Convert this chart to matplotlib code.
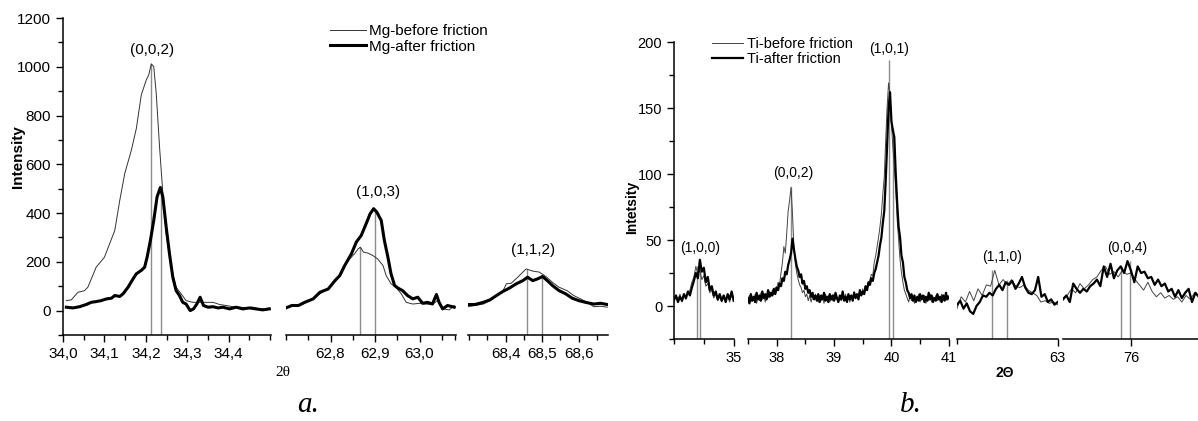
import numpy as np
import matplotlib
matplotlib.use('Agg')
import matplotlib.pyplot as plt

plt.rcParams['font.family'] = ['Liberation Sans', 'DejaVu Sans']

# ---- Mg, panel a ----
mg1_x_before = [34.008, 34.020, 34.036, 34.052, 34.060, 34.080, 34.100, 34.125, 34.137, 34.149,
                34.165, 34.177, 34.189, 34.201, 34.207, 34.213, 34.219, 34.225, 34.233, 34.241,
                34.249, 34.261, 34.273, 34.285, 34.297, 34.313, 34.330, 34.346, 34.362, 34.378,
                34.394, 34.410, 34.426, 34.442, 34.458, 34.474, 34.490, 34.498]
mg1_y_before = [41, 44, 75, 82, 96, 178, 219, 329, 452, 562,
                658, 747, 885, 946, 967, 1012, 1001, 891, 672, 480,
                315, 178, 96, 69, 41, 34, 34, 34, 34, 25,
                21, 16, 14, 11, 14, 7, 7, 11]
mg1_x_after = [34.008, 34.024, 34.040, 34.056, 34.068, 34.080, 34.092, 34.105, 34.117, 34.125,
               34.137, 34.145, 34.157, 34.169, 34.177, 34.189, 34.197, 34.203, 34.211, 34.219,
               34.227, 34.235, 34.241, 34.249, 34.257, 34.265, 34.273, 34.281, 34.289, 34.297,
               34.307, 34.315, 34.323, 34.331, 34.339, 34.350, 34.362, 34.374, 34.386, 34.402,
               34.418, 34.434, 34.450, 34.466, 34.482, 34.498]
mg1_y_after = [14, 11, 16, 25, 34, 37, 41, 48, 51, 62,
               58, 69, 96, 130, 151, 165, 178, 219, 288, 370,
               466, 505, 466, 343, 233, 137, 82, 62, 34, 27,
               0, 7, 27, 55, 21, 14, 16, 11, 14, 7,
               14, 7, 11, 7, 3, 7]

mg2_x_before = [62.700, 62.716, 62.731, 62.746, 62.761, 62.776, 62.791, 62.806, 62.817, 62.828,
                62.843, 62.854, 62.862, 62.867, 62.874, 62.884, 62.895, 62.906, 62.918, 62.925,
                62.936, 62.947, 62.959, 62.970, 62.985, 63.000, 63.014, 63.029, 63.040, 63.052,
                63.067, 63.078]
mg2_y_before = [14, 21, 21, 34, 48, 69, 85, 110, 137, 178,
                212, 233, 253, 260, 240, 236, 226, 212, 185, 144,
                110, 96, 69, 34, 27, 30, 27, 25, 41, 7,
                3, 21]
mg2_x_after = [62.700, 62.713, 62.728, 62.742, 62.761, 62.776, 62.795, 62.810, 62.821, 62.832,
               62.847, 62.858, 62.869, 62.880, 62.889, 62.897, 62.904, 62.914, 62.921, 62.929,
               62.936, 62.944, 62.951, 62.962, 62.973, 62.985, 62.996, 63.007, 63.018, 63.029,
               63.038, 63.044, 63.052, 63.063, 63.078]
mg2_y_after = [11, 21, 21, 34, 48, 75, 89, 123, 144, 185,
               233, 281, 308, 356, 397, 418, 404, 370, 288, 219,
               151, 103, 93, 82, 62, 48, 55, 30, 34, 27,
               66, 34, 7, 21, 14]

mg3_x_before = [68.297, 68.316, 68.339, 68.357, 68.375, 68.393, 68.402, 68.415, 68.433, 68.456,
                68.474, 68.492, 68.510, 68.528, 68.546, 68.568, 68.586, 68.605, 68.623, 68.641,
                68.660, 68.678]
mg3_y_before = [16, 21, 27, 41, 62, 82, 110, 112, 137, 171,
                162, 158, 140, 116, 96, 82, 62, 48, 34, 16,
                18, 14]
mg3_x_after = [68.297, 68.316, 68.339, 68.357, 68.375, 68.393, 68.411, 68.429, 68.447, 68.460,
               68.474, 68.487, 68.501, 68.514, 68.528, 68.546, 68.564, 68.582, 68.600, 68.618,
               68.641, 68.660, 68.678]
mg3_y_after = [25, 25, 34, 44, 62, 79, 93, 110, 123, 137,
               123, 130, 140, 123, 103, 82, 69, 51, 41, 34,
               27, 30, 25]

mg_peaks = [(34.213, 1012), (34.237, 505), (62.867, 260), (62.899, 418), (68.458, 171), (68.500, 140)]
mg_labels = [(34.215, 1068, '(0,0,2)'), (62.906, 485, '(1,0,3)'), (68.476, 247, '(1,1,2)')]

# ---- Ti, panel b ----
ti1_before = [3, 7, 5, 9, 3, 8, 5, 10, 12, 18, 22, 30, 24, 27, 20, 23, 15, 17, 10, 12,
              6, 9, 4, 7, 3, 8, 5, 7, 3, 9, 6]
ti1_after = [5, 8, 3, 7, 4, 9, 6, 11, 8, 14, 19, 25, 21, 35, 26, 29, 18, 22, 12, 15,
             8, 11, 5, 9, 4, 8, 3, 9, 5, 11, 4]

ti2_before = [4, 8, 3, 7, 5, 9, 2, 7, 4, 10,
              5, 8, 3, 9, 6, 11, 7, 12, 9, 14,
              13, 18, 16, 25, 33, 45, 40, 55, 72, 80,
              90, 70, 45, 32, 25, 20, 16, 14, 10, 12,
              7, 9, 4, 8, 3, 7, 5, 9, 6, 3,
              8, 4, 7, 2, 9, 5, 8, 3, 6, 4,
              9, 5, 7, 3, 8, 4, 10, 6, 9, 4,
              7, 3, 8, 5, 11, 6, 9, 7, 12, 8,
              13, 10, 14, 12, 17, 20, 24, 23, 33, 38,
              45, 52, 60, 70, 85, 98, 126, 151, 169, 160,
              138, 120, 105, 88, 65, 50, 35, 25, 18, 12,
              9, 6, 3, 8, 4, 7, 2, 6, 4, 9,
              3, 7, 5, 8, 2, 6, 4, 9, 3, 7,
              5, 8, 4, 6, 3, 9, 5, 7, 4, 8,
              6]
ti2_after = [6, 2, 9, 4, 7, 3, 10, 5, 8, 4,
             11, 6, 9, 5, 12, 7, 10, 8, 13, 9,
             14, 12, 17, 15, 21, 19, 26, 24, 31, 35,
             40, 51, 43, 36, 30, 27, 22, 24, 17, 19,
             13, 15, 10, 12, 7, 10, 5, 8, 4, 9,
             3, 8, 5, 10, 4, 7, 3, 9, 5, 8,
             4, 10, 6, 3, 8, 5, 11, 4, 7, 3,
             9, 5, 8, 4, 10, 6, 9, 5, 12, 8,
             11, 9, 15, 12, 18, 16, 21, 19, 25, 28,
             33, 38, 46, 52, 63, 72, 95, 122, 150, 162,
             140, 133, 128, 100, 78, 60, 52, 38, 33, 22,
             18, 12, 10, 6, 9, 4, 8, 3, 7, 4,
             9, 5, 8, 3, 7, 4, 10, 5, 8, 3,
             6, 4, 9, 5, 7, 3, 8, 4, 10, 5,
             7]

ti3_before = [-2, 7, 3, 11, 4, 13, 8, 16, 15, 27, 16, 20, 16, 20, 15, 14, 16, 12, 10, 8,
              3, 4, 2, 3, 1]
ti3_after = [1, 4, -2, 2, -4, -6, 0, 3, 8, 7, 10, 8, 13, 16, 12, 18, 16, 19, 13, 17,
             22, 14, 10, 9, 12, 22, 7, 9, 3, 5, 1, 3]

ti4_before = [6, 8, 13, 10, 17, 13, 16, 20, 22, 27, 30, 24, 26, 22, 27, 24, 25, 20, 16, 12,
              18, 11, 7, 10, 6, 8, 5, 7, 3, 8, 5, 10, 7]
ti4_after = [5, 8, 3, 17, 13, 10, 13, 11, 15, 17, 20, 15, 30, 22, 32, 21, 27, 30, 25, 34,
             27, 18, 30, 25, 26, 21, 22, 16, 20, 15, 17, 11, 13, 7, 12, 6, 10, 13, 3, 10, 7]

ti_peaks = [(34.69, 30), (34.717, 35), (38.25, 90), (39.955, 186), (40.025, 135),
            (62.35, 27), (62.50, 20), (75.86, 30), (75.98, 34)]
ti_labels = [(0, 34.717, 44, '(1,0,0)'), (1, 38.28, 101, '(0,0,2)'), (1, 39.96, 195, '(1,0,1)'),
             (2, 62.446, 37, '(1,1,0)'), (3, 75.94, 44, '(0,0,4)')]

W, H = 1198, 421
fig = plt.figure(figsize=(W / 100, H / 100), dpi=100)


def seg_axes(x0, x1, ytop, ybot, left_spine):
    ax = fig.add_axes([x0 / W, 1 - ybot / H, (x1 - x0) / W, (ybot - ytop) / H])
    ax.set_facecolor('none')
    for s in ['top', 'right']:
        ax.spines[s].set_visible(False)
    ax.spines['left'].set_visible(left_spine)
    if not left_spine:
        ax.set_yticks([])
    for s in ['left', 'bottom']:
        ax.spines[s].set_linewidth(1.1)
    ax.tick_params(which='major', direction='out', length=5, width=1.0)
    ax.tick_params(which='minor', direction='out', length=3.5, width=1.0)
    return ax


def xticks(ax, major, labels, minor):
    ax.set_xticks(major)
    ax.set_xticklabels(labels)
    ax.set_xticks(minor, minor=True)


THIN = dict(color='#333333', lw=0.7)
GRAY = dict(color='#8c8c8c', lw=1.0)

# panel a
a1 = seg_axes(63, 271, 18, 335, True)
a2 = seg_axes(286, 456, 18, 335, False)
a3 = seg_axes(468, 608, 18, 335, False)
a_axes = [a1, a2, a3]
a1.set_xlim(34.0, 34.502)
a2.set_xlim(62.7, 63.082)
a3.set_xlim(68.297, 68.68)
for ax in a_axes:
    ax.set_ylim(-100, 1200)
    ax.tick_params(labelsize=11)

a1.set_yticks(range(0, 1201, 200))
a1.set_yticks(range(-100, 1200, 200), minor=True)
xticks(a1, [34.0, 34.1, 34.2, 34.3, 34.4], ['34,0', '34,1', '34,2', '34,3', '34,4'],
       [34.05, 34.15, 34.25, 34.35, 34.45, 34.5])
xticks(a2, [62.8, 62.9, 63.0], ['62,8', '62,9', '63,0'],
       [62.7, 62.75, 62.85, 62.95, 63.05, 63.08])
xticks(a3, [68.4, 68.5, 68.6], ['68,4', '68,5', '68,6'],
       [68.3, 68.35, 68.45, 68.55, 68.65])

mg_sets = [(mg1_x_before, mg1_y_before, mg1_x_after, mg1_y_after),
           (mg2_x_before, mg2_y_before, mg2_x_after, mg2_y_after),
           (mg3_x_before, mg3_y_before, mg3_x_after, mg3_y_after)]
for ax, (xb, yb, xa, ya) in zip(a_axes, mg_sets):
    lb, = ax.plot(xb, yb, **THIN)
    la, = ax.plot(xa, ya, color='black', lw=2.2)
    if ax is a1:
        mg_handles = [lb, la]
for i, (px, py) in enumerate(mg_peaks):
    ax = a_axes[i // 2]
    ax.vlines(px, -100, py, zorder=0.5, **GRAY)
for ax, (tx, ty, s) in zip(a_axes, mg_labels):
    ax.text(tx, ty, s, ha='center', va='center', fontsize=11)

fig.legend(mg_handles, ['Mg-before friction', 'Mg-after friction'], loc='upper left',
           bbox_to_anchor=(330 / W, 1 - 24 / H), frameon=False, fontsize=11,
           handlelength=2.35, handletextpad=0.2, labelspacing=0.1,
           borderpad=0, borderaxespad=0)

fig.text(18 / W, 1 - 157 / H, 'Intensity', rotation=90, ha='center', va='center',
         fontsize=11, fontweight='bold')
fig.text(283 / W, 1 - 372 / H, '2θ', ha='center', va='center', fontsize=11,
         family='Liberation Serif')
fig.text(308 / W, 1 - 412 / H, 'a.', ha='center', va='baseline', fontsize=21,
         family='Liberation Serif', style='italic')

# panel b
b1 = seg_axes(674, 734, 42, 339, True)
b2 = seg_axes(748, 949, 42, 339, False)
b3 = seg_axes(957, 1058, 42, 339, False)
b4 = seg_axes(1063, 1199, 42, 339, False)
b_axes = [b1, b2, b3, b4]
b_ranges = [(34.5, 35.0), (37.5, 41.0), (62.0, 63.0), (75.0, 77.0)]
for ax, r in zip(b_axes, b_ranges):
    ax.set_xlim(r[0], r[1] + 0.003)
    ax.set_ylim(-25, 200)
    ax.tick_params(labelsize=10.5)

b1.set_yticks(range(0, 201, 50))
b1.set_yticks(range(-25, 200, 50), minor=True)
xticks(b1, [35.0], ['35'], [34.5, 34.75])
xticks(b2, [38, 39, 40, 41], ['38', '39', '40', '41'], [37.5, 38.5, 39.5, 40.5])
xticks(b3, [63], ['63'], [62.0])
xticks(b4, [76], ['76'], [])

ti_sets = [(ti1_before, ti1_after), (ti2_before, ti2_after),
           (ti3_before, ti3_after), (ti4_before, ti4_after)]
for ax, r, (yb, ya) in zip(b_axes, b_ranges, ti_sets):
    lb, = ax.plot(np.linspace(r[0], r[1], len(yb)), yb, color='#444444', lw=0.7)
    la, = ax.plot(np.linspace(r[0], r[1], len(ya)), ya, color='black', lw=1.6)
    if ax is b1:
        ti_handles = [lb, la]
peak_axes = [0, 0, 1, 1, 1, 2, 2, 3, 3]
for k, (px, py) in zip(peak_axes, ti_peaks):
    b_axes[k].vlines(px, -25, py, zorder=0.5, **GRAY)
for k, tx, ty, s in ti_labels:
    b_axes[k].text(tx, ty, s, ha='center', va='center', fontsize=10)

fig.legend(ti_handles, ['Ti-before friction', 'Ti-after friction'], loc='upper left',
           bbox_to_anchor=(712 / W, 1 - 37 / H), frameon=False, fontsize=10.5,
           handlelength=2.1, handletextpad=0.27, labelspacing=0.1,
           borderpad=0, borderaxespad=0)

fig.text(632 / W, 1 - 207 / H, 'Intetsity', rotation=90, ha='center', va='center',
         fontsize=10, fontweight='bold')
fig.text(1005 / W, 1 - 373 / H, '2Θ', ha='center', va='center', fontsize=10,
         fontweight='bold')
fig.text(911 / W, 1 - 412 / H, 'b.', ha='center', va='baseline', fontsize=21,
         family='Liberation Serif', style='italic')

fig.savefig('out.png', dpi=100)
